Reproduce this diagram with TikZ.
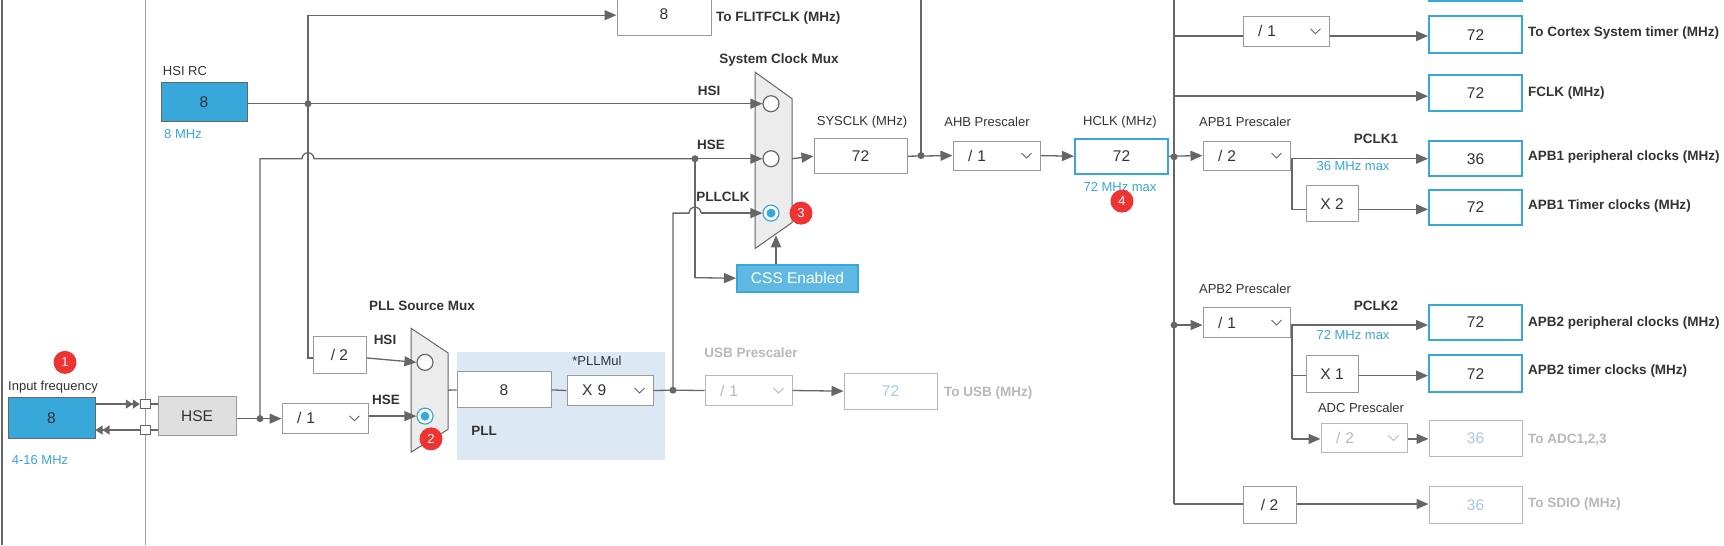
\documentclass[tikz,border=0pt]{standalone}
\usepackage{fontspec}
\setmainfont{Liberation Sans}
\usetikzlibrary{arrows.meta}
\definecolor{ln}{HTML}{666666}
\definecolor{bd}{HTML}{9A9A9A}
\definecolor{blu}{HTML}{38A8DB}
\definecolor{txt}{HTML}{333333}
\definecolor{lgt}{HTML}{B8B8B8}
\definecolor{lbl}{HTML}{A8C8E8}
\definecolor{pllbg}{HTML}{DCE8F4}
\definecolor{bad}{HTML}{EE3333}
\newcommand{\bx}[7]{\node[#6, minimum width={(#4-#2)*1pt}, minimum height={(#5-#3)*0.6324pt}] (#1) at ({(#2+#4)/2},{(#3+#5)/2}) {#7};}
\newcommand{\chev}[2][ln]{\draw[#1,line width=0.9pt] ([xshift=-19pt,yshift=2.5pt]#2.east) -- ++(5pt,-5pt) -- ++(5pt,5pt);}
\newcommand{\hop}{arc[start angle=180,end angle=0,radius=6pt]}
\tikzset{
 box/.style={draw=bd, line width=1pt, fill=white, inner sep=0pt, font=\fontsize{15.5}{15.5}\selectfont, text=txt},
 obox/.style={box, draw=blu, line width=2pt},
 gbox/.style={box, text=lbl, draw=lgt},
 dd/.style={box, text width={(#1)*1pt-30pt}, align=left},
 sbox/.style={draw=ln, line width=1pt, fill=blu, inner sep=0pt, font=\fontsize{15.5}{15.5}\selectfont, text=txt},
 lab/.style={font=\fontsize{13}{13}\selectfont, text=txt, inner sep=0pt},
 blab/.style={lab, font=\fontsize{13.5}{13.5}\selectfont\bfseries},
 glab/.style={blab, text=lgt},
 bl/.style={lab, text=blu},
 wire/.style={draw=ln, line width=1.3pt},
 arr/.style={wire, -{Triangle[length=12pt,width=10pt]}},
 badge/.style={circle, fill=bad, text=white, inner sep=0pt, minimum size=23pt, font=\fontsize{13}{13}\selectfont},
 mux/.style={draw=ln, line width=1pt, fill=gray!15},
 rad/.style={circle, draw=ln, line width=1.2pt, fill=white, minimum size=16pt, inner sep=0pt},
}
\begin{document}
\begin{tikzpicture}[x=1pt,y=-0.6324pt]
\useasboundingbox (0,0) rectangle (1724,861.8);
\fill[white] (0,0) rectangle (1724,861.8);
\draw[ln, line width=2pt] (2,0) -- (2,862);
\draw[lgt!70!ln, line width=1pt] (145,0) -- (145,862);
% PLL area
\fill[pllbg] (457,556) rectangle (665,727);
% left sources
\bx{inf}{8}{628}{95}{693}{sbox}{8}
\node[lab] (infl) at (53,612) {Input frequency};
\node[bl] (infr) at (40,728) {4-16 MHz};
\node[badge] (b1) at (65,573) {1};
\bx{sq1}{140}{632}{150}{646}{draw=ln,fill=white,inner sep=0pt}{}
\bx{sq2}{140}{673}{150}{687}{draw=ln,fill=white,inner sep=0pt}{}
\draw[wire,-{Triangle[length=7pt,width=9pt]Triangle[length=7pt,width=9pt]}] (inf.east|-sq1) -- (sq1);
\draw[wire,-{Triangle[length=7pt,width=9pt]Triangle[length=7pt,width=9pt]}] (sq2) -- (inf.east|-sq2);
\bx{hse}{158}{627}{236}{689}{box,fill=gray!25}{HSE}
\draw[wire] (sq1.east) -- (hse.west|-sq1);
\draw[wire] (sq2.east) -- (hse.west|-sq2);
\bx{hsi}{161}{131}{247}{192}{sbox}{8}
\node[lab] (hsil) at (185,113) {HSI RC};
\node[bl] (hsir) at (183,212) {8 MHz};
% flitf
\bx{flit}{617}{-10}{711}{56}{box}{8}
\node[blab,anchor=west] (flitl) at (716,28) {To FLITFCLK (MHz)};
% system clock mux
\path[mux] (755,114) -- (792,156) -- (792,352) -- (755,393) -- cycle;
\node[rad] (r1) at (771,164) {};
\node[rad] (r2) at (771,251) {};
\node[rad, draw=blu] (r3) at (771,337) {};
\fill[blu] (r3) circle (4.5pt);
\node[badge] (b3) at (801,337) {3};
\node[blab] (scm) at (779,95) {System Clock Mux};
\node[blab] (l1) at (709,144) {HSI};
\node[blab] (l2) at (711,229) {HSE};
\node[blab] (l3) at (723,312) {PLLCLK};
\bx{css}{737}{419}{858}{461}{box,fill=blu!80,draw=blu,line width=2pt,text=white}{CSS Enabled}
% PLL source mux
\path[mux] (411,519) -- (448,558) -- (448,679) -- (411,715) -- cycle;
\node[rad] (p1) at (425,573) {};
\node[rad, draw=blu] (p2) at (425,658) {};
\fill[blu] (p2) circle (4.5pt);
\node[badge] (b2) at (431,694) {2};
\node[blab] (psm) at (422,483) {PLL Source Mux};
\node[blab] (l4) at (385,538) {HSI};
\node[blab] (l5) at (386,632) {HSE};
\bx{d2}{313}{532}{366}{590}{box}{/ 2}
\bx{d1}{282}{638}{368}{685}{dd=86}{/ 1}\chev{d1}
\bx{pll8}{457}{588}{551}{645}{box}{8}
\bx{x9}{567}{594}{653}{641}{dd=86}{X 9}\chev{x9}
\node[lab] (plm) at (597,570) {*PLLMul};
\node[blab] (plll) at (484,681) {PLL};
% USB
\node[glab] (usbl) at (751,558) {USB Prescaler};
\bx{usb}{705}{594}{792}{641}{dd=87,text=lgt,draw=lgt}{/ 1}\chev[lgt]{usb}
\bx{usbo}{844}{590}{937}{647}{gbox}{72}
\node[glab,anchor=west] (usbt) at (944,621) {To USB (MHz)};
% wires left
\draw[wire] (hsi.east|-0,164) -- (308,164);
\draw[arr] (308,164) -- (r1.west);
\fill[ln] (308,164) circle (3.5pt);
\draw[wire] (308,164) -- (308,24);
\draw[arr] (308,24) -- (flit.west|-0,24);
\draw[wire] (308,164) -- (308,566) -- (d2.west|-0,566);
\draw[arr] (d2.east|-0,566) -- (p1.west);
\coordinate (hj) at (260,662);
\draw[wire] (hse.east|-hj) -- (hj);
\fill[ln] (hj) circle (3.5pt);
\draw[arr] (hj) -- (d1.west|-hj);
\draw[arr] (d1.east|-p2) -- (p2.west);
\draw[wire] (hj) -- (260,251) -- (302,251) \hop -- (695,251);
\draw[arr] (695,251) -- (r2.west);
\fill[ln] (695,251) circle (3.5pt);
\draw[wire] (695,251) -- (695,439);
\draw[arr] (695,439) -- (css.west);
\draw[arr] (css.north-|776,0) -- (776,372);
\draw[wire] (448,617) -- (pll8.west);
\draw[wire] (pll8.east) -- (x9.west);
\draw[wire] (x9.east) -- (673,617);
\fill[ln] (673,617) circle (3.5pt);
\draw[wire] (673,617) -- (usb.west);
\draw[arr] (usb.east) -- (usbo.west);
\draw[wire] (673,617) -- (673,337) -- (689,337) \hop -- (701,337);
\draw[arr] (701,337) -- (r3.west);
% SYSCLK
\bx{sys}{814}{219}{907}{275}{box}{72}
\node[lab] (sysl) at (862,193) {SYSCLK (MHz)};
\draw[arr] (792,251) -- (sys.west);
\bx{ahb}{953}{223}{1040}{269}{dd=87}{/ 1}\chev{ahb}
\node[lab] (ahbl) at (987,193) {AHB Prescaler};
\draw[wire] (921,0) -- (921,246);
\draw[arr] (sys.east) -- (ahb.west);
\fill[ln] (921,246) circle (3.5pt);
\bx{hclk}{1075}{219}{1168}{275}{obox}{72}
\node[lab] (hcl) at (1120,193) {HCLK (MHz)};
\node[bl] (hcm) at (1120,295) {72 MHz max};
\node[badge] (b4) at (1122,318) {4};
\draw[arr] (ahb.east) -- (hclk.west);
% right side
\draw[wire] (1174,0) -- (1174,797);
\bx{apb1}{1203}{223}{1290}{269}{dd=87}{/ 2}\chev{apb1}
\node[lab] (a1l) at (1245,193) {APB1 Prescaler};
\draw[arr] (hclk.east) -- (apb1.west);
\fill[ln] (1174,248) circle (3.5pt);
\bx{mem}{1429}{-60}{1522}{2}{obox}{}
\bx{cdd}{1243}{26}{1329}{73}{dd=86}{/ 1}\chev{cdd}
\bx{cor}{1429}{26}{1522}{84}{obox}{72}
\node[blab,anchor=west] (corl) at (1528,52) {To Cortex System timer (MHz)};
\draw[wire] (1174,57) -- (cdd.west|-0,57);
\draw[arr] (cdd.east|-0,57) -- (cor.west|-0,57);
\bx{fclk}{1429}{119}{1522}{176}{obox}{72}
\node[blab,anchor=west] (fcl) at (1528,147) {FCLK (MHz)};
\draw[arr] (1174,152) -- (fclk.west|-0,152);
\bx{p1o}{1429}{223}{1522}{279}{obox}{36}
\node[blab,anchor=west] (p1l) at (1528,248) {APB1 peripheral clocks (MHz)};
\node[blab] (pc1) at (1376,220) {PCLK1};
\node[bl] (m36) at (1353,263) {36 MHz max};
\draw[arr] (apb1.east|-0,251) -- (p1o.west|-0,251);
\bx{x2}{1306}{293}{1358}{351}{box}{X 2}
\bx{t1o}{1429}{300}{1522}{356}{obox}{72}
\node[blab,anchor=west] (t1l) at (1528,326) {APB1 Timer clocks (MHz)};
\draw[wire] (1292,251) -- (1292,331) -- (x2.west|-0,331);
\draw[arr] (x2.east|-0,331) -- (t1o.west|-0,331);
% APB2
\node[lab] (a2l) at (1245,457) {APB2 Prescaler};
\bx{apb2}{1203}{486}{1290}{534}{dd=87}{/ 1}\chev{apb2}
\draw[arr] (1174,514) -- (apb2.west|-0,514);
\fill[ln] (1174,514) circle (3.5pt);
\bx{p2o}{1429}{482}{1522}{537}{obox}{72}
\node[blab,anchor=west] (p2l) at (1528,510) {APB2 peripheral clocks (MHz)};
\node[blab] (pc2) at (1376,484) {PCLK2};
\node[bl] (m72) at (1353,530) {72 MHz max};
\draw[arr] (apb2.east|-0,514) -- (p2o.west|-0,514);
\bx{x1}{1306}{562}{1358}{620}{box}{X 1}
\bx{t2o}{1429}{562}{1522}{620}{obox}{72}
\node[blab,anchor=west] (t2l) at (1528,586) {APB2 timer clocks (MHz)};
\draw[wire] (1292,514) -- (1292,694);
\draw[wire] (1292,594) -- (x1.west|-0,594);
\draw[arr] (x1.east|-0,594) -- (t2o.west|-0,594);
\node[lab] (adcl) at (1361,645) {ADC Prescaler};
\bx{adc}{1321}{669}{1407}{716}{dd=86,text=lgt,draw=lgt}{/ 2}\chev[lgt]{adc}
\draw[arr] (1292,694) -- (adc.west|-0,694);
\bx{adco}{1429}{665}{1522}{722}{gbox}{36}
\node[glab,anchor=west] (adct) at (1528,696) {To ADC1,2,3};
\draw[arr] (adc.east|-0,694) -- (adco.west|-0,694);
\bx{sd}{1243}{770}{1296}{827}{box}{/ 2}
\bx{sdo}{1429}{770}{1522}{827}{gbox}{36}
\node[glab,anchor=west] (sdt) at (1528,797) {To SDIO (MHz)};
\draw[wire] (1174,797) -- (sd.west|-0,797);
\draw[arr] (sd.east|-0,797) -- (sdo.west|-0,797);
\end{tikzpicture}
\end{document}
